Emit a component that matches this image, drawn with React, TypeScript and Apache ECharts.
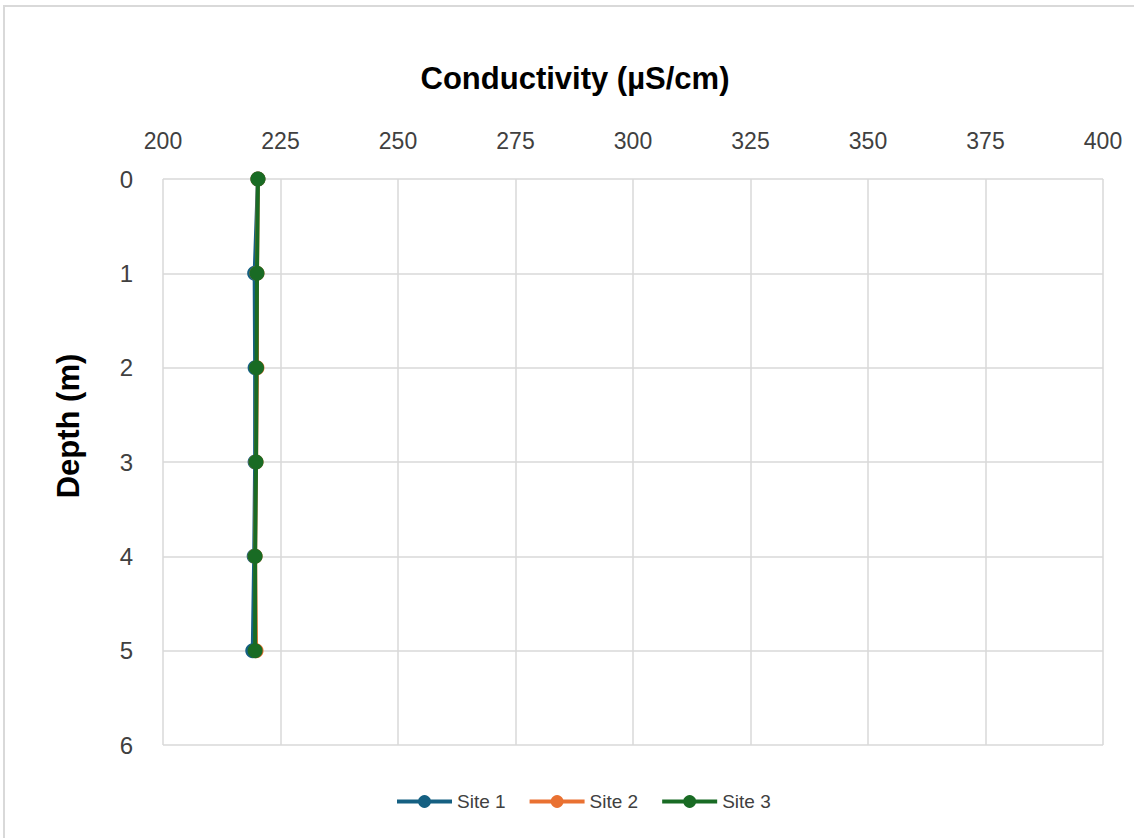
import React, { useEffect, useRef } from "react";
import * as echarts from "echarts";

const depths = [0, 1, 2, 3, 4, 5];
const site1 = [220.2, 219.5, 219.6, 219.6, 219.4, 219.1];
const site2 = [220.2, 220.0, 220.0, 219.8, 219.6, 219.8];
const site3 = [220.2, 220.0, 219.9, 219.8, 219.6, 219.6];
const seriesNames = ["Site 1", "Site 2", "Site 3"];
const seriesColors = ["#156082", "#E97132", "#196B24"];
const titleText = "Conductivity (µS/cm)";
const yTitleText = "Depth (m)";

const FONT = "Liberation Sans";

export default function App() {
  const ref = useRef<HTMLDivElement>(null);
  useEffect(() => {
    document.body.style.margin = "0";
    const chart = echarts.init(ref.current!, null, { renderer: "svg" });
    const all = [site1, site2, site3];
    chart.setOption({
      animation: false,
      backgroundColor: "transparent",
      title: {
        text: titleText,
        left: 570,
        textAlign: "center",
        top: 58,
        textStyle: { fontFamily: FONT, fontSize: 31, fontWeight: "bold", color: "#000000" },
      },
      graphic: [
        {
          type: "text",
          x: 68,
          y: 426,
          rotation: Math.PI / 2,
          style: {
            text: yTitleText,
            fontFamily: FONT,
            fontSize: 31,
            fontWeight: "bold",
            fill: "#000000",
            align: "center",
            verticalAlign: "middle",
          },
        },
      ],
      legend: {
        bottom: 22,
        left: 390,
        itemWidth: 55,
        itemHeight: 16,
        itemGap: 22,
        lineStyle: { width: 4 },
        textStyle: { fontFamily: FONT, fontSize: 19, color: "#404040" },
        data: seriesNames,
      },
      grid: { left: 163, top: 179, width: 940, height: 566 },
      xAxis: {
        type: "value",
        position: "top",
        min: 200,
        max: 400,
        interval: 25,
        axisLine: { show: false },
        axisTick: { show: false },
        axisLabel: { fontFamily: FONT, fontSize: 23, color: "#404040", margin: 27 },
        splitLine: { show: true, lineStyle: { color: "#d9d9d9", width: 1.5 } },
      },
      yAxis: {
        type: "value",
        inverse: true,
        min: 0,
        max: 6,
        interval: 1,
        axisLine: { show: false },
        axisTick: { show: false },
        axisLabel: { fontFamily: FONT, fontSize: 24, color: "#404040", margin: 30 },
        splitLine: { show: true, lineStyle: { color: "#d9d9d9", width: 1.5 } },
      },
      series: seriesNames.map((name, i) => ({
        name,
        type: "line",
        data: depths.map((d, j) => [all[i][j], d]),
        symbol: "circle",
        symbolSize: 15,
        lineStyle: { width: 4, color: seriesColors[i] },
        itemStyle: { color: seriesColors[i] },
        color: seriesColors[i],
        z: 2 + i,
      })),
    });
    return () => chart.dispose();
  }, []);
  return (
    <div style={{ position: "absolute", left: 0, top: 0, width: 1134, height: 838, background: "#fff", overflow: "hidden" }}>
      <div
        style={{
          position: "absolute",
          left: 3,
          top: 5,
          width: 1140,
          height: 840,
          border: "2px solid #d9d9d9",
          boxSizing: "border-box",
        }}
      />
      <div ref={ref} style={{ position: "absolute", left: 0, top: 0, width: 1134, height: 838 }} />
    </div>
  );
}
